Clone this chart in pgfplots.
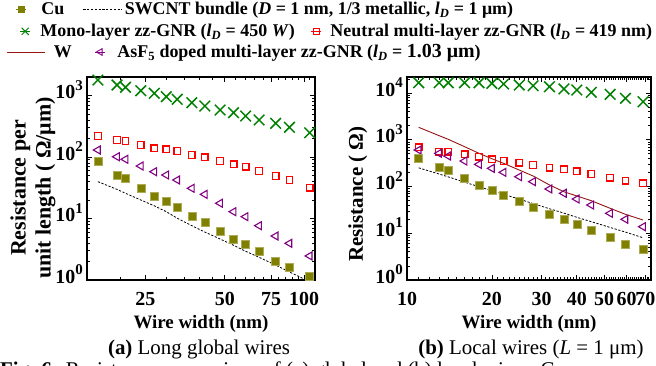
\documentclass[border=0pt]{standalone}
\usepackage{fontspec}
\setmainfont{Liberation Serif}
\usepackage{pgfplots}
\pgfplotsset{compat=1.18}
\usepackage{graphicx}

\definecolor{cuolive}{RGB}{128,128,0}
\definecolor{gnrgreen}{RGB}{0,128,0}
\definecolor{nred}{RGB}{255,0,0}
\definecolor{wbrown}{RGB}{150,20,20}
\definecolor{aspurple}{RGB}{128,0,128}

\newcommand{\tlfont}{\fontsize{20}{22}\selectfont\bfseries}
\newcommand{\lf}{\fontsize{18}{20}\selectfont\bfseries}
\newcommand{\ysup}[1]{10\raisebox{0.42em}{\fontsize{15}{15}\selectfont #1}}

\pgfplotsset{
  mycu/.style={only marks, mark=square*, mark size=4bp, color=cuolive, mark options={draw=cuolive!65!white, fill=cuolive, line width=0.5bp}},
  mygnr/.style={only marks, mark=x, mark size=7.5bp, color=gnrgreen, mark options={line width=1.5bp}},
  myneu/.style={only marks, mark=square, mark size=3.3bp, color=nred, mark options={line width=1.3bp}},
  myasf/.style={only marks, mark=triangle, mark size=4.6bp, color=aspurple, mark options={line width=1.1bp, rotate=90}},
  mycnt/.style={black, line width=0.8bp, dash pattern=on 2.2bp off 1.6bp, mark=none},
  mywline/.style={wbrown, line width=0.9bp, mark=none},
  lgcu/.style={mark=square*, mark size=3bp, color=cuolive},
  lggnr/.style={mark=x, mark size=5bp, color=gnrgreen, mark options={line width=1bp}},
  lgneu/.style={mark=square, mark size=3bp, color=nred, mark options={line width=1bp}},
  lgasf/.style={mark=triangle, mark size=3.8bp, color=aspurple, mark options={line width=0.9bp, rotate=90}},
  mylegmark/.style={legend image code/.code={\draw[##1] plot coordinates {(5bp,0bp)}; \path (0bp,0bp) -- (10bp,0bp);}},
  mylegline/.style={legend image code/.code={\draw[##1] (0bp,0bp) -- (#1,0bp);}},
  mylegax/.style={hide axis, scale only axis, width=10bp, height=10bp, xmin=0, xmax=1, ymin=0, ymax=1, anchor=center,
    legend style={draw=none, fill=none, inner sep=0pt, outer sep=0pt, at={(0.5,0.5)}, anchor=west, font=\lf,
      nodes={inner sep=0pt}, legend cell align=left,
      /tikz/every odd column/.append style={column sep=#1}}},
}

\begin{document}
\begin{tikzpicture}
\path[use as bounding box] (0bp,0bp) rectangle (656bp,-366bp);

% ---------- (a) long global wires ----------
\begin{axis}[xmode=log, ymode=log, scale only axis, height=203bp, width=228bp,
  at={(87bp,-280bp)}, anchor=south west,
  axis line style={line width=1.1bp},
  tick style={black, line width=0.8bp},
  major tick length=5bp, minor tick length=3bp, tick align=inside,
  tick label style={font=\tlfont},
  xticklabel style={anchor=base, yshift=-25bp, inner sep=0pt},
  yticklabel style={anchor=base east, xshift=-4bp, yshift=-3bp, inner sep=0pt},
  xlabel style={font=\fontsize{19}{21}\selectfont\bfseries, at={(axis description cs:0.5,0)}, anchor=base, yshift=-48bp},
  xmin=15, xmax=110, ymin=1, ymax=2000,
  xtick={25,50,75,100}, xticklabels={25,50,75,100},
  minor xtick={15,20,30,35,40,45,55,60,65,70,80,85,90,95,105,110},
  ytick={1,10,100,1000}, yticklabels={\ysup{0},\ysup{1},\ysup{2},\ysup{3}},
  minor ytick={2,3,4,5,6,7,8,9,20,30,40,50,60,70,80,90,200,300,400,500,600,700,800,900,2000},
  xlabel={Wire width (nm)},
  ylabel={Resistance per\\unit length ( Ω/μm)},
  ylabel style={at={(axis description cs:-0.237,0.453)}, anchor=center, align=center, font=\fontsize{22}{25}\selectfont\bfseries},
]
\addplot[mycnt] coordinates {(16.5,39.7) (19.5,29.8) (21,25.7) (24,20) (27,16.1) (30,12.9) (33,10.1) (37.5,7.64) (42,6.03) (48,4.64) (54,3.67) (60,2.93) (67.5,2.34) (78,1.75) (88,1.35) (105,0.94)};
\addplot[mygnr] coordinates {(16.5,1786) (19.5,1482) (21,1360) (24,1197) (27,1086) (30,956) (33,867) (37.5,764) (42,675) (48,581) (54,525) (60,464) (67.5,400) (78,353) (88,304) (105,248)};
\addplot[myneu] coordinates {(16.5,219) (19.5,189) (21,182) (24,157) (27,138) (30,133) (33,125) (37.5,108) (42,98.9) (48,86.1) (54,76.1) (60,69.5) (67.5,59.2) (78,49.1) (88,42.3) (105,31.7)};
\addplot[myasf] coordinates {(16.5,130) (19.5,101) (21,91.8) (24,71.4) (27,57.7) (30,51) (33,42.3) (37.5,31) (42,24.7) (48,17.7) (54,12.9) (60,10.7) (67.5,7.64) (78,5.19) (88,3.95) (105,2.46)};
\addplot[mycu] coordinates {(16.5,83.9) (19.5,51) (21,45.1) (24,31) (27,22.6) (30,18.8) (33,15.2) (37.5,11.0) (42,8.55) (48,6.26) (54,4.64) (60,3.85) (67.5,2.89) (78,2.04) (88,1.61) (105,1.13)};
\end{axis}

% ---------- (b) local wires ----------
\begin{axis}[xmode=log, ymode=log, scale only axis, height=203bp, width=244bp,
  at={(407bp,-280bp)}, anchor=south west,
  axis line style={line width=1.1bp},
  tick style={black, line width=0.8bp},
  major tick length=5bp, minor tick length=3bp, tick align=inside,
  tick label style={font=\tlfont},
  xticklabel style={anchor=base, yshift=-25bp, inner sep=0pt},
  yticklabel style={anchor=base east, xshift=-4bp, yshift=-3bp, inner sep=0pt},
  xlabel style={font=\fontsize{19}{21}\selectfont\bfseries, at={(axis description cs:0.5,0)}, anchor=base, yshift=-48bp},
  xmin=10, xmax=73.3, ymin=1, ymax=22000,
  xtick={10,20,30,40,50,60,70}, xticklabels={10,20,30,40,50,60,70},
  minor xtick={11,12,13,14,15,16,17,18,19,21,22,23,24,25,26,27,28,29,31,32,33,34,35,36,37,38,39,41,42,43,44,45,46,47,48,49,51,52,53,54,55,56,57,58,59,61,62,63,64,65,66,67,68,69,71,72,73},
  ytick={1,10,100,1000,10000}, yticklabels={\ysup{0},\ysup{1},\ysup{2},\ysup{3},\ysup{4}},
  minor ytick={2,3,4,5,6,7,8,9,20,30,40,50,60,70,80,90,200,300,400,500,600,700,800,900,2000,3000,4000,5000,6000,7000,8000,9000,20000},
  xlabel={Wire width (nm)},
  ylabel={Resistance ( Ω)},
  ylabel style={at={(axis description cs:-0.201,0.424)}, anchor=center, font=\fontsize{21}{24}\selectfont\bfseries},
]
\addplot[mywline] coordinates {(11,1846) (13,1222) (14,1023) (16,711) (18,513) (20,393) (22,313) (25,225) (28,168) (32,108) (36,77.4) (40,62.7) (45,49.7) (52.5,34.2) (59.5,25.4) (68.7,19.2)};
\addplot[mycnt] coordinates {(11,251) (13,185) (14,161) (16,124) (18,99) (20,81.7) (22,68.2) (25,53.7) (28,43.1) (32,33.4) (36,27) (40,21.9) (45,17.7) (52.5,13.3) (59.5,10.6) (68.7,8.0)};
\addplot[mygnr] coordinates {(11,16600) (13,16600) (14,16600) (16,16600) (18,16600) (20,16100) (22,15600) (25,14800) (28,14300) (32,13650) (36,12200) (40,11600) (45,10350) (52.5,9380) (59.5,7700) (68.7,6500)};
\addplot[myneu] coordinates {(11,690) (13,555) (14,555) (16,489) (18,434) (20,382) (22,351) (25,323) (28,288) (32,252) (36,233) (40,211) (45,185) (52.5,154) (59.5,133) (68.7,117)};
\addplot[myasf] coordinates {(11,604) (13,513) (14,449) (16,351) (18,298) (20,245) (22,201) (25,162) (28,127) (32,88.5) (36,71.6) (40,54) (45,40.2) (52.5,26.7) (59.5,19.9) (68.7,13.8)};
\addplot[mycu] coordinates {(11,401) (13,253) (14,225) (16,150) (18,108) (20,81.3) (22,63.5) (25,48.9) (28,35.9) (32,25.4) (36,19.9) (40,15.5) (45,11.7) (52.5,8.03) (59.5,5.89) (68.7,4.60)};
\end{axis}

% ---------- legend (three rows) ----------
\begin{axis}[mylegax=15bp, at={(16bp,-9.5bp)}]
\addlegendimage{lgcu, mylegmark}\addlegendentry{Cu}
\end{axis}
\begin{axis}[mylegax=2bp, at={(83bp,-9.5bp)}]
\addlegendimage{mycnt, mylegline=39bp}\addlegendentry{SWCNT bundle (\textit{D} = 1 nm, 1/3 metallic, \textit{l}\textsubscript{\textit{D}} = 1 μm)}
\end{axis}
\begin{axis}[mylegax=10bp, at={(20bp,-31.3bp)}]
\addlegendimage{lggnr, mylegmark}\addlegendentry{Mono-layer zz-GNR (\textit{l}\textsubscript{\textit{D}} = 450 \textit{W})}
\end{axis}
\begin{axis}[mylegax=9bp, at={(311bp,-31.3bp)}]
\addlegendimage{lgneu, mylegmark}\addlegendentry{Neutral multi-layer zz-GNR (\textit{l}\textsubscript{\textit{D}} = 419 nm)}
\end{axis}
\begin{axis}[mylegax=8bp, at={(7bp,-52bp)}]
\addlegendimage{mywline, mylegline=38bp}\addlegendentry{W}
\end{axis}
\begin{axis}[mylegax=12bp, at={(95bp,-52bp)}]
\addlegendimage{lgasf, mylegmark}\addlegendentry{AsF\textsubscript{5} doped multi-layer zz-GNR (\textit{l}\textsubscript{\textit{D}} = {\fontsize{20}{20}\selectfont 1.03 μm})}
\end{axis}

% ---------- captions ----------
\node[anchor=base, font=\fontsize{21}{24}\selectfont, inner sep=0pt] at (199bp,-354bp) {\textbf{(a)} Long global wires};
\node[anchor=base, font=\fontsize{21}{24}\selectfont, inner sep=0pt] at (531bp,-354bp) {\textbf{(b)} Local wires (\textit{L} = 1 μm)};
\node[anchor=base west, font=\fontsize{21}{24}\selectfont, inner sep=0pt] at (0bp,-376bp) {\textbf{Fig. 6:} Resistance comparison of (a) global and (b) local wires. Cu};
\end{tikzpicture}
\end{document}
